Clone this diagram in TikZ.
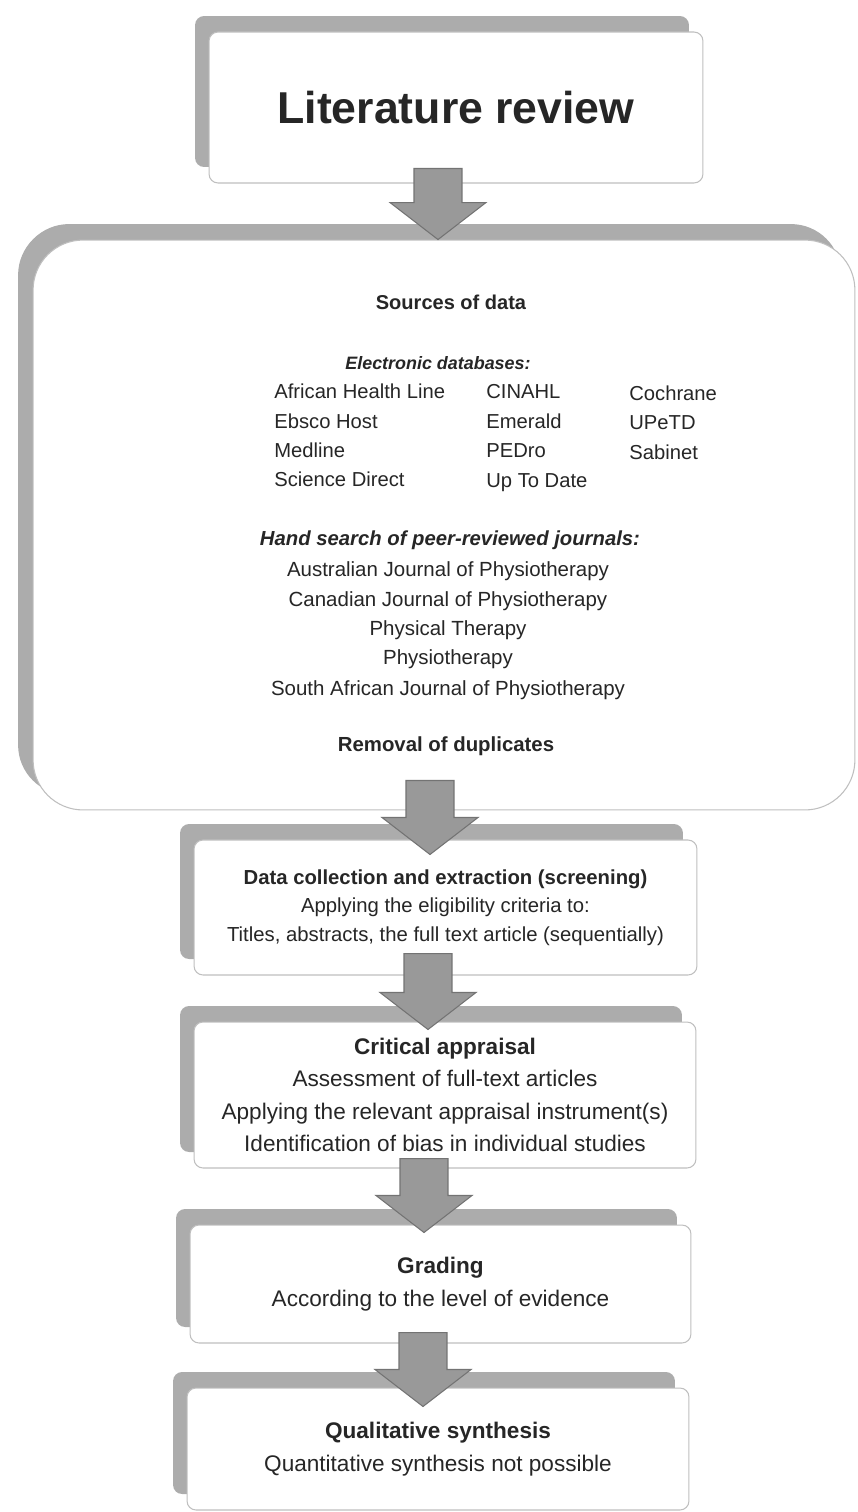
\documentclass[tikz,border=0pt]{standalone}
\usepackage{fontspec}
\setmainfont{Liberation Sans}
\usetikzlibrary{calc,shadows}

\begin{document}
\begin{tikzpicture}[x=0.02cm, y=-0.02cm, color=black!85]
  \tikzset{
    stepbox/.style={draw=gray!50, line width=0.6pt, fill=white, rounded corners=0.18cm,
      general shadow={fill=gray!65, shadow xshift=-0.28cm, shadow yshift=0.32cm},
      align=center, inner sep=0pt},
    flowarrow/.style={draw=black!55, fill=gray!80, line width=0.6pt,
      to path={let \p1=(\tikztostart), \p2=(\tikztotarget) in
        (\x1-0.48cm,\y1) -- (\x1+0.48cm,\y1) -- (\x1+0.48cm,\y2+0.74cm) -- (\x1+0.96cm,\y2+0.74cm)
        -- (\x1,\y2) -- (\x1-0.96cm,\y2+0.74cm) -- (\x1-0.48cm,\y2+0.74cm) -- cycle}},
    dbentry/.style={anchor=base west, inner sep=0pt, font=\fontsize{11.5}{14}\selectfont},
    jline/.style={anchor=base, inner sep=0pt, font=\fontsize{11.65}{14}\selectfont}
  }
  \useasboundingbox (0,0) rectangle (858,1512);

  % boxes
  \node[stepbox, minimum width=9.88cm, minimum height=3.02cm,
        font=\fontsize{25.4}{30}\selectfont\bfseries] (lit) at (456,107.5) {Literature review};
  \node[stepbox, rounded corners=1cm, minimum width=16.44cm, minimum height=11.4cm,
        general shadow={fill=gray!65, shadow xshift=-0.3cm, shadow yshift=0.3cm}] (src) at (444,525) {};
  \node[stepbox, minimum width=10.06cm, minimum height=2.7cm,
        font=\fontsize{11.55}{16.2}\selectfont] (dce) at (445.5,907.5)
        {\textbf{Data collection and extraction (screening)}\\Applying the eligibility criteria to:\\Titles, abstracts, the full text article (sequentially)};
  \node[stepbox, minimum width=10.04cm, minimum height=2.92cm,
        font=\fontsize{12.85}{18.4}\selectfont] (crit) at (445,1095)
        {\textbf{Critical appraisal}\\Assessment of full-text articles\\Applying the relevant appraisal instrument(s)\\Identification of bias in individual studies};
  \node[stepbox, minimum width=10.02cm, minimum height=2.36cm,
        font=\fontsize{12.85}{18.8}\selectfont] (grad) at (440.5,1284)
        {\textbf{Grading}\\According to the level of evidence};
  \node[stepbox, minimum width=10.04cm, minimum height=2.44cm,
        font=\fontsize{12.85}{18.8}\selectfont] (qual) at (438,1449)
        {\textbf{Qualitative synthesis}\\Quantitative synthesis not possible};

  % contents of the sources box
  \node[anchor=base, inner sep=0pt, font=\fontsize{11.4}{14}\selectfont\bfseries] (srctitle) at (451,309) {Sources of data};
  \node[anchor=base, inner sep=0pt, font=\fontsize{10.2}{12}\selectfont\bfseries\itshape] (elec) at (438,369) {Electronic databases:};
  \node[dbentry] (afr) at (274,398) {African Health Line};
  \node[dbentry] (ebs) at (274,428) {Ebsco Host};
  \node[dbentry] (med) at (274,457) {Medline};
  \node[dbentry] (sci) at (274,486) {Science Direct};
  \node[dbentry] (cin) at (486,398) {CINAHL};
  \node[dbentry] (eme) at (486,428) {Emerald};
  \node[dbentry] (ped) at (486,457) {PEDro};
  \node[dbentry] (utd) at (486,487) {Up To Date};
  \node[dbentry] (coc) at (629,400) {Cochrane};
  \node[dbentry] (upe) at (629,429) {UPeTD};
  \node[dbentry] (sab) at (629,459) {Sabinet};
  \node[anchor=base, inner sep=0pt, font=\fontsize{11.55}{14}\selectfont\bfseries\itshape] (hand) at (450,545) {Hand search of peer-reviewed journals:};
  \node[jline] (ajp) at (448,576) {Australian Journal of Physiotherapy};
  \node[jline] (cjp) at (448,606) {Canadian Journal of Physiotherapy};
  \node[jline] (pt) at (448,635) {Physical Therapy};
  \node[jline] (phys) at (448,664) {Physiotherapy};
  \node[jline] (sajp) at (448,695) {South African Journal of Physiotherapy};
  \node[anchor=base, inner sep=0pt, font=\fontsize{11.6}{14}\selectfont\bfseries] (dup) at (446,751) {Removal of duplicates};

  % arrows
  \path[flowarrow] ($(lit.south)+(-18,-15)$) to (src.north);
  \path[flowarrow] ($(src.south)+(-14,-30)$) to ($(dce.north)+(0,15)$);
  \path[flowarrow] ($(dce.south)+(-17.5,-22)$) to ($(crit.north)+(0,8)$);
  \path[flowarrow] ($(crit.south)+(-21,-10)$) to ($(grad.north)+(0,8)$);
  \path[flowarrow] ($(grad.south)+(-17.5,-11)$) to ($(qual.north)+(0,19)$);
\end{tikzpicture}
\end{document}
